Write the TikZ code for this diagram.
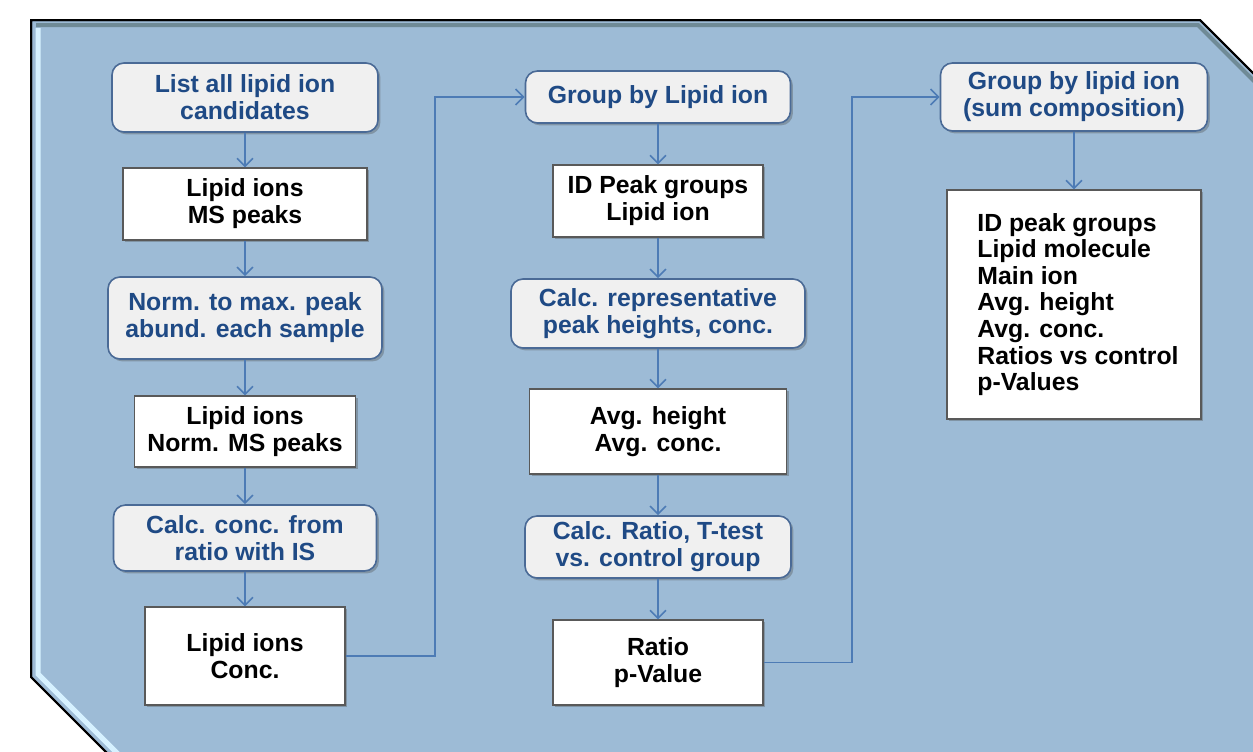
\documentclass[tikz,border=0pt]{standalone}
\usepackage{fontspec}
\setmainfont{Liberation Sans}
\usetikzlibrary{arrows.meta,shadows}

\definecolor{panel}{HTML}{9DBBD6}
\definecolor{panellight}{HTML}{D6F1FF}
\definecolor{paneldark}{HTML}{6F8A96}
\definecolor{taskfill}{HTML}{F0F0F0}
\definecolor{taskline}{HTML}{4A6A96}
\definecolor{tasktext}{HTML}{1F4A85}
\definecolor{flowline}{HTML}{4D7BB5}

\begin{document}
\begin{tikzpicture}[x=0.5pt, y=-0.5pt,
  task/.style={draw=taskline, fill=taskfill, line width=0.8pt, rounded corners=6pt,
    text=tasktext, font=\bfseries\fontsize{12.4}{13.5}\selectfont, align=center,
    inner sep=0pt, drop shadow={shadow xshift=1.2pt, shadow yshift=-1.2pt, fill=black!70, opacity=0.35}},
  data/.style={draw=black!65, fill=white, line width=0.6pt,
    font=\bfseries\fontsize{12.4}{13.5}\selectfont, align=center,
    inner sep=0pt, drop shadow={shadow xshift=1.2pt, shadow yshift=-1.2pt, fill=black!70, opacity=0.35}},
  flow/.style={draw=flowline, line width=0.8pt, -{Straight Barb[length=4pt, width=8pt]}}]

  \useasboundingbox (0,0) rectangle (1253,751);
  \clip (0,0) rectangle (1253,751);

  % panel
  \fill[panel] (31,20) -- (1200,20) -- (1320,140) -- (1320,800) -- (154,800) -- (31,677) -- cycle;
  \draw[panellight, line width=2.5pt] (38,28) -- (38,674) -- (160,796);
  \draw[paneldark, line width=2pt] (36,25) -- (1198,25) -- (1316,143);
  \draw[black, line width=1pt] (31,800) -- (154,800) -- (31,677) -- (31,20) -- (1200,20) -- (1320,140);
  \draw[black, line width=1pt] (154,800) -- (31,677) -- (31,20) -- (1200,20) -- (1320,140);

  % column 1
  \node[task, minimum width=133pt, minimum height=34.5pt] (list) at (245,97.5) {List all lipid ion\\candidates};
  \node[data, minimum width=122pt, minimum height=36pt] (ms) at (245,204) {Lipid ions\\MS peaks};
  \node[task, minimum width=137pt, minimum height=41pt] (norm) at (245,318) {Norm. to max. peak\\abund. each sample};
  \node[data, minimum width=110.5pt, minimum height=35.5pt] (normms) at (245,431.5) {Lipid ions\\Norm. MS peaks};
  \node[task, minimum width=131.5pt, minimum height=33pt] (calc) at (245,538) {Calc. conc. from\\ratio with IS};
  \node[data, minimum width=100pt, minimum height=49pt] (conc) at (245,656) {Lipid ions\\Conc.};

  % column 2
  \node[task, minimum width=132.5pt, minimum height=26pt] (grp) at (658,97) {Group by Lipid ion};
  \node[data, minimum width=105pt, minimum height=36pt] (idpeak) at (658,201) {ID Peak groups\\Lipid ion};
  \node[task, minimum width=147pt, minimum height=34.5pt] (calcrep) at (658,313.5) {Calc. representative\\peak heights, conc.};
  \node[data, minimum width=128.5pt, minimum height=42.5pt] (avg) at (658,431.5) {Avg. height\\Avg. conc.};
  \node[task, minimum width=133pt, minimum height=31pt] (calcratio) at (658,547) {Calc. Ratio, T-test\\vs. control group};
  \node[data, minimum width=105pt, minimum height=42.5pt] (ratio) at (658,662.5) {Ratio\\p-Value};

  % column 3
  \node[task, minimum width=133.5pt, minimum height=34pt] (sumgrp) at (1074,97) {Group by lipid ion\\(sum composition)};
  \node[data, minimum width=127pt, minimum height=114.5pt] (summary) at (1074,304.5) {};
  \node[anchor=west, align=left, inner sep=0pt, font=\bfseries\fontsize{12.4}{13.3}\selectfont]
    (summarytext) at (977,304.5) {ID peak groups\\Lipid molecule\\Main ion\\Avg. height\\Avg. conc.\\Ratios vs control\\p-Values};

  \coordinate (bendA) at (435,656);
  \coordinate (bendB) at (852,662.5);

  \draw[flow] (list) -- (ms);
  \draw[flow] (ms) -- (norm);
  \draw[flow] (norm) -- (normms);
  \draw[flow] (normms) -- (calc);
  \draw[flow] (calc) -- (conc);
  \draw[flow] (conc.east) -- (bendA) |- (grp.west);
  \draw[flow] (grp) -- (idpeak);
  \draw[flow] (idpeak) -- (calcrep);
  \draw[flow] (calcrep) -- (avg);
  \draw[flow] (avg) -- (calcratio);
  \draw[flow] (calcratio) -- (ratio);
  \draw[flow] (ratio.east) -- (bendB) |- (sumgrp.west);
  \draw[flow] (sumgrp) -- (summary);
\end{tikzpicture}
\end{document}
